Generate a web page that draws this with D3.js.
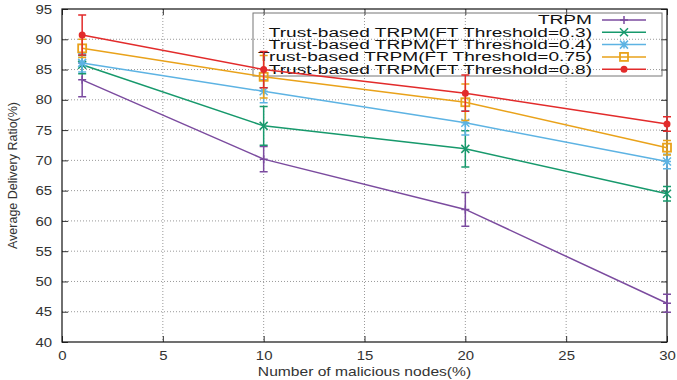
<!DOCTYPE html>
<html><head><meta charset="utf-8">
<script src="https://cdn.jsdelivr.net/npm/d3@7"></script>
<style>body{margin:0;background:#fff;} text{font-family:"Liberation Sans",Arial,sans-serif;}</style>
</head><body>
<svg id="c" width="677" height="380"></svg>
<script>
const xValues = [1, 10, 20, 30];
const seriesNames = ["TRPM","Trust-based TRPM(FT Threshold=0.3)","Trust-based TRPM(FT Threshold=0.4)","Trust-based TRPM(FT Threshold=0.75)","Trust-based TRPM(FT Threshold=0.8)"];
const trpm   = [83.3, 70.2, 61.9, 46.4];
const ft03   = [85.8, 75.7, 71.9, 64.5];
const ft04   = [86.1, 81.4, 76.2, 69.8];
const ft075  = [88.5, 83.8, 79.6, 72.1];
const ft08   = [90.7, 85.0, 81.1, 76.0];
const trpmErr  = [2.8, 2.1, 2.8, 1.5];
const ft03Err  = [1.5, 3.2, 3.0, 1.2];
const ft04Err  = [1.5, 1.9, 2.0, 1.2];
const ft075Err = [1.5, 3.5, 3.0, 1.2];
const ft08Err  = [3.3, 3.0, 3.0, 1.2];
const xTicks = [0,5,10,15,20,25,30];
const yTicks = [40,45,50,55,60,65,70,75,80,85,90,95];
const colors = ["#7b4b9f","#17996c","#5db3e3","#e9a21a","#e22b2b"];
const markers = ["plus","cross","star","square","circle"];

const values = [trpm, ft03, ft04, ft075, ft08];
const errs = [trpmErr, ft03Err, ft04Err, ft075Err, ft08Err];

const svg = d3.select("#c");
const L=62, R=667, T=9, B=342;
const x = d3.scaleLinear().domain([0,30]).range([L,R]);
const y = d3.scaleLinear().domain([40,95]).range([B,T]);

// grid
const g = svg.append("g");
g.selectAll(".gx").data(xTicks.slice(1,-1)).enter().append("line")
 .attr("x1",d=>x(d)).attr("x2",d=>x(d)).attr("y1",T).attr("y2",B)
 .attr("stroke","#999").attr("stroke-width",1).attr("stroke-dasharray","1,2");
g.selectAll(".gy").data(yTicks.slice(1,-1)).enter().append("line")
 .attr("y1",d=>y(d)).attr("y2",d=>y(d)).attr("x1",L).attr("x2",R)
 .attr("stroke","#999").attr("stroke-width",1).attr("stroke-dasharray","1,2");

// axes
const xAx = d3.axisBottom(x).tickValues(xTicks).tickSize(-6).tickPadding(9);
const yAx = d3.axisLeft(y).tickValues(yTicks).tickSize(-6).tickPadding(10);
const xa = svg.append("g").attr("transform",`translate(0,${B})`).call(xAx);
const ya = svg.append("g").attr("transform",`translate(${L},0)`).call(yAx);
const xt = svg.append("g").attr("transform",`translate(0,${T})`).call(d3.axisTop(x).tickValues(xTicks).tickSize(-6).tickFormat(""));
const yr = svg.append("g").attr("transform",`translate(${R},0)`).call(d3.axisRight(y).tickValues(yTicks).tickSize(-6).tickFormat(""));
[xa,ya,xt,yr].forEach(a=>{a.select(".domain").remove(); a.selectAll("line").attr("stroke","#333");
 a.selectAll("text").attr("font-size",13).attr("fill","#333").attr("font-family","Liberation Sans, Arial, sans-serif");});
// stretch tick labels horizontally like the reference
ya.selectAll(".tick text").each(function(){
  const t=d3.select(this); const tx=+t.attr("x");
  t.attr("x",0).attr("transform",`translate(${tx},0) scale(1.15,1)`);
});
xa.selectAll(".tick text").attr("transform","scale(1.15,1)");
svg.append("rect").attr("x",L).attr("y",T).attr("width",R-L).attr("height",B-T)
 .attr("fill","none").attr("stroke","#111").attr("stroke-width",1.2);

const xl = svg.append("text").attr("transform",`translate(${(L+R)/2},376) scale(1.25,1)`).attr("text-anchor","middle")
 .attr("font-size",12.5).attr("fill","#333").text("Number of malicious nodes(%)");
svg.append("text").attr("transform",`translate(17,${(T+B)/2}) rotate(-90)`).attr("text-anchor","middle")
 .attr("font-size",12.5).attr("fill","#333").text("Average Delivery Ratio(%)");

function marker(sel, type, cx, cy, col){
  const s=4;
  if(type==="plus"){
    sel.append("path").attr("d",`M${cx-s},${cy}H${cx+s}M${cx},${cy-s}V${cy+s}`).attr("stroke",col).attr("stroke-width",1.5);
  } else if(type==="cross"){
    sel.append("path").attr("d",`M${cx-s},${cy-s}L${cx+s},${cy+s}M${cx-s},${cy+s}L${cx+s},${cy-s}`).attr("stroke",col).attr("stroke-width",1.5);
  } else if(type==="star"){
    sel.append("path").attr("d",`M${cx-s},${cy}H${cx+s}M${cx},${cy-s}V${cy+s}M${cx-s},${cy-s}L${cx+s},${cy+s}M${cx-s},${cy+s}L${cx+s},${cy-s}`).attr("stroke",col).attr("stroke-width",1.5);
  } else if(type==="square"){
    sel.append("rect").attr("x",cx-s).attr("y",cy-s).attr("width",2*s).attr("height",2*s).attr("fill","none").attr("stroke",col).attr("stroke-width",1.8);
  } else {
    sel.append("circle").attr("cx",cx).attr("cy",cy).attr("r",3.5).attr("fill",col);
  }
}

// legend box (transparent, as in the reference)
const lg = svg.append("g");
lg.append("rect").attr("x",253).attr("y",13).attr("width",409).attr("height",63)
  .attr("fill","none").attr("stroke","#777").attr("stroke-width",1);

const line = d3.line().x((d,i)=>x(xValues[i])).y(d=>y(d));
values.forEach((vals,k)=>{
  const sg = svg.append("g");
  sg.append("path").attr("d",line(vals)).attr("fill","none").attr("stroke",colors[k]).attr("stroke-width",1.5);
  vals.forEach((v,i)=>{
    const cx=x(xValues[i]), e=errs[k][i];
    const y1=Math.max(y(v+e),T), y2=Math.min(y(v-e),B);
    sg.append("path").attr("d",`M${cx},${y1}V${y2}M${cx-4},${y1}H${cx+4}M${cx-4},${y2}H${cx+4}`)
      .attr("stroke",colors[k]).attr("stroke-width",1.5).attr("fill","none");
    marker(sg, markers[k], cx, y(v), colors[k]);
  });
});

// legend entries
const texts = [];
seriesNames.forEach((n,k)=>{
  const ly = 20 + k*12.3;
  const t = lg.append("text").attr("x",0).attr("y",0).attr("text-anchor","end")
    .attr("font-size",12).attr("fill","#111").text(n);
  texts.push({t, ly});
  lg.append("line").attr("x1",602).attr("x2",646).attr("y1",ly).attr("y2",ly).attr("stroke",colors[k]).attr("stroke-width",1.5);
  marker(lg, markers[k], 624, ly, colors[k]);
});
const maxW = d3.max(texts, d=>d.t.node().getComputedTextLength());
const sx = 334 / maxW;
texts.forEach(d=>d.t.attr("transform",`translate(592,${d.ly+4.3}) scale(${sx},1)`));
</script>
</body></html>
